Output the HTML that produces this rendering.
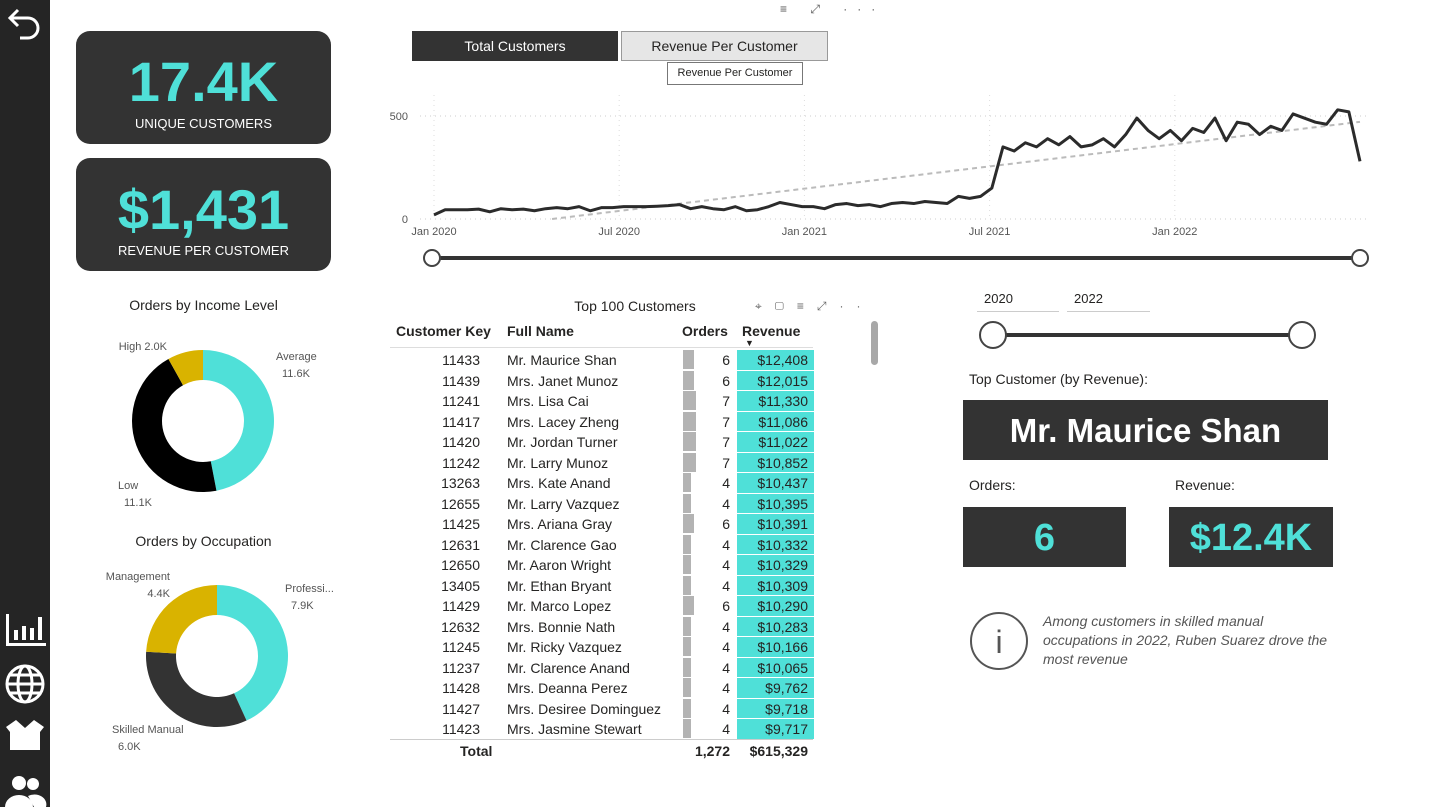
<!DOCTYPE html>
<html><head><meta charset="utf-8">
<style>
*{box-sizing:border-box;margin:0;padding:0}
body{width:1455px;height:807px;background:#fff;font-family:"Liberation Sans",sans-serif;color:#252423;position:relative;overflow:hidden}
.abs{position:absolute}
.card{position:absolute;background:#333;border-radius:14px;color:#fff;text-align:center}
.big{color:#4fe0d8;font-weight:bold}
.sm{font-size:13px}
.kpi{position:absolute;background:#333;text-align:center;font-weight:bold}
</style></head><body>
<div class="abs" style="left:0;top:0;width:50px;height:807px;background:#252525"></div>
<svg class="abs" style="left:0;top:0" width="50" height="807">
<g fill="none" stroke="#fff" stroke-width="3"><path d="M12 18 H28 a10 10 0 0 1 0 20 H20"/><path d="M18 10 L10 18 L18 26"/></g>
<g fill="#fff"><rect x="6" y="614" width="3" height="32"/><rect x="6" y="643" width="40" height="3"/><rect x="14" y="630" width="4" height="10"/><rect x="22" y="626" width="4" height="14"/><rect x="30" y="628" width="4" height="12"/><rect x="38" y="617" width="4" height="23"/></g>
<g fill="none" stroke="#fff" stroke-width="3"><circle cx="25" cy="684" r="18"/><ellipse cx="25" cy="684" rx="7" ry="18"/><line x1="7" y1="684" x2="43" y2="684"/><line x1="10" y1="675" x2="40" y2="675"/><line x1="10" y1="693" x2="40" y2="693"/></g>
<g fill="#fff"><path d="M6 727 L16 720 L25 728 L34 720 L44 727 L40 732 V750 H10 V732 Z"/></g>
<g fill="#fff"><circle cx="19" cy="783" r="7"/><circle cx="33" cy="784" r="6"/><path d="M5 807 a14 12 0 0 1 28 0 Z"/><path d="M28 796 a12 10 0 0 1 18 11 H34 Z"/></g>
</svg>

<div class="card" style="left:76px;top:31px;width:255px;height:113px">
<div class="big" style="font-size:56px;margin-top:22px;line-height:58px">17.4K</div>
<div class="sm" style="margin-top:5px">UNIQUE CUSTOMERS</div></div>
<div class="card" style="left:76px;top:158px;width:255px;height:113px">
<div class="big" style="font-size:56px;margin-top:23px;line-height:58px">$1,431</div>
<div class="sm" style="margin-top:4px">REVENUE PER CUSTOMER</div></div>

<div class="abs" style="left:412px;top:31px;width:206px;height:30px;background:#333;color:#fff;font-size:14px;text-align:center;line-height:30px">Total Customers</div>
<div class="abs" style="left:621px;top:31px;width:207px;height:30px;background:#e6e6e6;border:1px solid #999;font-size:14px;text-align:center;line-height:28px">Revenue Per Customer</div>
<div class="abs" style="left:667px;top:62px;width:136px;height:23px;background:#fff;border:1px solid #777;font-size:11px;text-align:center;line-height:21px">Revenue Per Customer</div>
<div class="abs" style="left:780px;top:2px;font-size:12px;color:#555;letter-spacing:10px">≡ ⤢ ···</div>

<svg id="line" class="abs" style="left:380px;top:85px" width="1000" height="190"></svg>

<div class="abs" style="left:76px;top:297px;width:255px;text-align:center;font-size:14px">Orders by Income Level</div>
<svg id="d1" class="abs" style="left:60px;top:320px" width="300" height="200"></svg>
<div class="abs" style="left:76px;top:533px;width:255px;text-align:center;font-size:14px">Orders by Occupation</div>
<svg id="d2" class="abs" style="left:60px;top:560px" width="300" height="220"></svg>

<div class="abs" style="left:560px;top:298px;width:150px;text-align:center;font-size:14px">Top 100 Customers</div>
<div class="abs" style="left:755px;top:299px;font-size:12px;color:#666;letter-spacing:13px">⌖▢≡⤢··</div>
<div class="abs" style="left:871px;top:321px;width:7px;height:44px;background:#a8a8a8;border-radius:4px"></div>
<div id="tbl" class="abs" style="left:390px;top:320px;width:430px;height:440px;font-size:14px"></div>

<div class="abs" style="left:977px;top:285px;width:82px;height:27px;border-bottom:1px solid #ccc;font-size:13px;padding:6px 7px">2020</div>
<div class="abs" style="left:1067px;top:285px;width:83px;height:27px;border-bottom:1px solid #ccc;font-size:13px;padding:6px 7px">2022</div>
<svg class="abs" style="left:970px;top:315px" width="350" height="40">
<line x1="23" y1="20" x2="332" y2="20" stroke="#333" stroke-width="4"/>
<circle cx="23" cy="20" r="13" fill="#fff" stroke="#444" stroke-width="2"/><circle cx="332" cy="20" r="13" fill="#fff" stroke="#444" stroke-width="2"/></svg>

<div class="abs" style="left:969px;top:371px;font-size:14px">Top Customer (by Revenue):</div>
<div class="kpi" style="left:963px;top:400px;width:365px;height:60px;color:#fff;font-size:33px;line-height:62px">Mr. Maurice Shan</div>
<div class="abs" style="left:969px;top:477px;font-size:14px">Orders:</div>
<div class="abs" style="left:1175px;top:477px;font-size:14px">Revenue:</div>
<div class="kpi" style="left:963px;top:507px;width:163px;height:60px;color:#4fe0d8;font-size:38px;line-height:62px">6</div>
<div class="kpi" style="left:1169px;top:507px;width:164px;height:60px;color:#4fe0d8;font-size:38px;line-height:62px">$12.4K</div>
<svg class="abs" style="left:968px;top:610px" width="62" height="62"><circle cx="31" cy="31" r="28" fill="none" stroke="#555" stroke-width="2"/><text x="31" y="43" text-anchor="middle" font-size="32" fill="#555" font-family="Liberation Sans">i</text></svg>
<div class="abs" style="left:1043px;top:612px;width:285px;font-size:14px;font-style:italic;color:#555;line-height:19px">Among customers in skilled manual occupations in 2022, Ruben Suarez drove the most revenue</div>

<script>
// ---- line chart data ----
const lineValues=[20,45,45,45,48,35,50,45,48,40,50,55,50,60,40,55,55,60,60,60,62,65,70,50,60,50,45,60,40,45,60,80,70,60,60,50,70,75,65,70,60,75,80,75,85,80,75,110,100,110,150,350,330,370,350,390,360,400,350,360,390,350,410,490,430,390,430,380,440,420,490,380,470,460,410,450,430,510,490,470,460,530,520,280];
const xTickLabels=["Jan 2020","Jul 2020","Jan 2021","Jul 2021","Jan 2022"];
const xTickFrac=[0,0.5,1,1.5,2]; // years from start
const yTicks=[0,500];
const NS="http://www.w3.org/2000/svg";
function mk(p,t,a){const e=document.createElementNS(NS,t);for(const k in a)e.setAttribute(k,a[k]);p.appendChild(e);return e;}
(function(){
 const s=document.getElementById('line');
 const x0=54,x1=980,yy=v=>134-v*0.206;
 const N=lineValues.length;
 const xi=i=>x0+(x1-x0)*i/(N-1);
 const totalYears=2.5;
 const xy=f=>x0+(x1-x0)*f/totalYears;
 yTicks.forEach(v=>{const l=mk(s,'line',{x1:40,x2:990,y1:yy(v),y2:yy(v),stroke:'#ccc','stroke-dasharray':'1 4'});
  const t=mk(s,'text',{x:28,y:yy(v)+4,'text-anchor':'end','font-size':11,fill:'#555'});t.textContent=v;});
 xTickLabels.forEach((lb,i)=>{const x=xy(xTickFrac[i]);mk(s,'line',{x1:x,x2:x,y1:10,y2:134,stroke:'#ddd','stroke-dasharray':'1 4'});
  const t=mk(s,'text',{x:x,y:150,'text-anchor':'middle','font-size':11,fill:'#555'});t.textContent=lb;});
 let sx=0,sy=0,sxx=0,sxy=0;lineValues.forEach((v,i)=>{sx+=i;sy+=v;sxx+=i*i;sxy+=i*v});
 const b=(N*sxy-sx*sy)/(N*sxx-sx*sx),a=(sy-b*sx)/N;
 const iz=Math.max(0,-a/b);
 const tr=mk(s,'line',{x1:xi(iz),y1:yy(a+b*iz),x2:xi(N-1),y2:yy(a+b*(N-1)),stroke:'#bbb','stroke-width':2,'stroke-dasharray':'5 4'});
 
 const p=mk(s,'polyline',{points:lineValues.map((v,i)=>xi(i)+','+yy(v)).join(' '),fill:'none',stroke:'#2b2b2b','stroke-width':3,'stroke-linejoin':'round'});
 
 const sl=mk(s,'g',{});
 mk(sl,'line',{x1:52,x2:980,y1:173,y2:173,stroke:'#333','stroke-width':4});
 mk(sl,'circle',{cx:52,cy:173,r:8,fill:'#fff',stroke:'#444','stroke-width':2});
 mk(sl,'circle',{cx:980,cy:173,r:8,fill:'#fff',stroke:'#444','stroke-width':2});
})();
// ---- donuts ----
const incomeLabels=["Average","Low","High"];
const incomeValues=[11.6,11.1,2.0];
const incomeColors=["#4fe0d8","#000","#d9b300"];
const occLabels=["Professi...","Skilled Manual","Management"];
const occValues=[7.9,6.0,4.4];
const occColors=["#4fe0d8","#333","#d9b300"];
function donut(id,cx,cy,labels,vals,cols,lpos){
 const s=document.getElementById(id);const tot=vals.reduce((a,b)=>a+b,0);let ang=0;const R=71,r=41;
 vals.forEach((v,i)=>{const a0=ang,a1=ang+v/tot*2*Math.PI;ang=a1;
  const pt=(rad,a)=>[cx+rad*Math.sin(a),cy-rad*Math.cos(a)];const lg=a1-a0>Math.PI?1:0;
  const [x0,y0]=pt(R,a0),[x1,y1]=pt(R,a1),[x2,y2]=pt(r,a1),[x3,y3]=pt(r,a0);
  const p=mk(s,'path',{d:`M${x0} ${y0}A${R} ${R} 0 ${lg} 1 ${x1} ${y1}L${x2} ${y2}A${r} ${r} 0 ${lg} 0 ${x3} ${y3}Z`,fill:cols[i]});
  
  const [lx,ly,anc]=lpos[i];
  const t=mk(s,'text',{x:lx,y:ly,'text-anchor':anc,'font-size':11,fill:'#555'});
  if(lpos[i][3]){t.textContent=labels[i]+' '+v.toFixed(1)+'K';}else{t.textContent=labels[i];const t2=mk(s,'text',{x:lx+(anc==='end'?0:6),y:ly+17,'text-anchor':anc,'font-size':11,fill:'#555'});t2.textContent=v.toFixed(1)+'K';}
 });}
donut('d1',143,101,incomeLabels,incomeValues,incomeColors,[[216,40,'start'],[58,169,'start'],[107,30,'end',1]]);
donut('d2',157,96,occLabels,occValues,occColors,[[225,32,'start'],[52,173,'start'],[110,20,'end']]);
// ---- table ----
const keys=[11433,11439,11241,11417,11420,11242,13263,12655,11425,12631,12650,13405,11429,12632,11245,11237,11428,11427,11423];
const names=["Mr. Maurice Shan","Mrs. Janet Munoz","Mrs. Lisa Cai","Mrs. Lacey Zheng","Mr. Jordan Turner","Mr. Larry Munoz","Mrs. Kate Anand","Mr. Larry Vazquez","Mrs. Ariana Gray","Mr. Clarence Gao","Mr. Aaron Wright","Mr. Ethan Bryant","Mr. Marco Lopez","Mrs. Bonnie Nath","Mr. Ricky Vazquez","Mr. Clarence Anand","Mrs. Deanna Perez","Mrs. Desiree Dominguez","Mrs. Jasmine Stewart"];
const orders=[6,6,7,7,7,7,4,4,6,4,4,4,6,4,4,4,4,4,4];
const revenue=["$12,408","$12,015","$11,330","$11,086","$11,022","$10,852","$10,437","$10,395","$10,391","$10,332","$10,329","$10,309","$10,290","$10,283","$10,166","$10,065","$9,762","$9,718","$9,717"];
(function(){
 const d=document.getElementById('tbl');let h='';
 h+=`<div class="abs" style="left:0;top:0;width:423px;height:28px;border-bottom:1px solid #ddd;font-weight:bold">
 <span class="abs" style="left:6px;top:3px">Customer Key</span><span class="abs" style="left:117px;top:3px">Full Name</span><span class="abs" style="left:292px;top:3px">Orders</span><span class="abs" style="left:352px;top:3px">Revenue</span><span class="abs" style="left:355px;top:18px;font-size:9px">▼</span></div>`;
 keys.forEach((k,i)=>{const y=30+i*20.5;
  h+=`<div class="abs" style="left:0;top:${y}px;width:423px;height:20.5px">
  <span class="abs" style="right:333px;top:2px">${k}</span><span class="abs" style="left:117px;top:2px">${names[i]}</span>
  <span class="abs" style="left:293px;top:0;width:${orders[i]*1.9}px;height:19px;background:#b3b3b3"></span>
  <span class="abs" style="right:83px;top:2px">${orders[i]}</span>
  <span class="abs" style="left:347px;top:0;width:77px;height:19.5px;background:#4fe0d8"></span>
  <span class="abs" style="right:5px;top:2px">${revenue[i]}</span></div>`;});
 h+=`<div class="abs" style="left:0;top:419px;width:423px;border-top:1px solid #ccc;font-weight:bold;height:22px"><span class="abs" style="left:70px;top:3px">Total</span><span class="abs" style="right:83px;top:3px">1,272</span><span class="abs" style="right:5px;top:3px">$615,329</span></div>`;
 d.innerHTML=h;
})();
</script>
</body></html>
